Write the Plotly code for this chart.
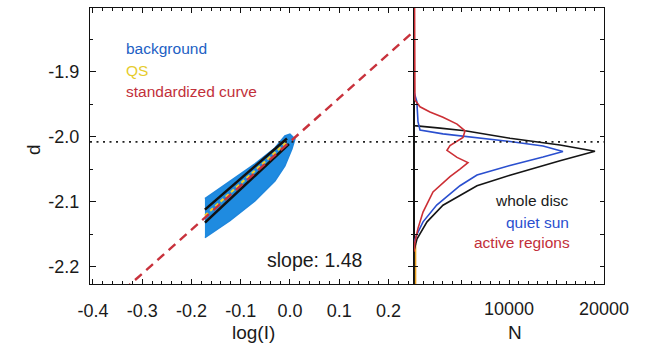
import plotly.graph_objects as go

W, H = 648, 356

# ---------------- data ----------------
# left panel: background band (upper / lower edges)
bg_x_upper = [-0.1726, -0.1218, -0.0711, -0.0305, -0.0102, 0.0, 0.0102]
bg_y_upper = [-2.0952, -2.0688, -2.0418, -2.0174, -1.9989, -1.9960, -2.0035]
bg_x_lower = [-0.1726, -0.1218, -0.0711, -0.0305, -0.0102, 0.004]
bg_y_lower = [-2.1552, -2.1292, -2.0988, -2.0681, -2.0451, -2.0190]

# whole-disc envelope lines (black) inside the band
wd_up_x = [-0.1726, -0.006]
wd_up_y = [-2.1122, -2.0028]
wd_lo_x = [-0.1726, -0.002]
wd_lo_y = [-2.1322, -2.0112]

# quiet sun (yellow dashed)
qs_x = [-0.1726, -0.004]
qs_y = [-2.1214, -2.0066]

# standardized curve (red dashed), slope 1.48 in log(I) vs d
std_x = [-0.36, 0.27]
std_y = [-2.2512, -1.8255]
slope_text = "slope: 1.48"

dotted_level = -2.008

# right panel: histograms N(d)
wd_N = [0, 0, 2740, 5370, 10100, 15370, 19050, 15370, 10100, 6630, 3050, 1370, 320, 0, 0]
wd_d = [-1.80, -1.983, -1.9868, -1.9909, -2.0023, -2.0128, -2.0225, -2.0369,
        -2.0592, -2.0754, -2.1054, -2.131, -2.157, -2.175, -2.2266]

qs_N = [0, 300, 420, 630, 3050, 6630, 10100, 13580, 15680, 13580, 10100, 6630,
        4840, 2390, 950, 280, 0]
qs_d = [-1.931, -1.946, -1.977, -1.9897, -1.9957, -2.0015, -2.0074, -2.0143,
        -2.0226, -2.0312, -2.0442, -2.0589, -2.0754, -2.1052, -2.131, -2.151, -2.162]

ar_N = [60, 100, 100, 630, 1680, 3050, 4530, 5370, 5160, 3790, 3470, 4530, 5680,
        4840, 3790, 2000, 950, 420, 100, 0]
ar_d = [-1.802, -1.923, -1.9435, -1.954, -1.962, -1.970, -1.9806, -1.9909, -2.0012,
        -2.0137, -2.021, -2.0318, -2.0398, -2.0497, -2.0615, -2.085, -2.116,
        -2.141, -2.162, -2.177]

orange_N = [150, 150]
orange_d = [-2.2266, -2.165]

left_xticks = [-0.4, -0.3, -0.2, -0.1, 0.0, 0.1, 0.2]
left_xtext = ["-0.4", "-0.3", "-0.2", "-0.1", "0.0", "0.1", "0.2"]
left_yticks = [-2.2, -2.1, -2.0, -1.9]
left_ytext = ["-2.2", "-2.1", "-2.0", "-1.9"]
right_xticks = [0, 5000, 10000, 15000, 20000]
right_xtext = ["", "", "10000", "", "20000"]

# ---------------- layout helpers ----------------
def px(x):
    return x / W

def py(y):
    return 1 - y / H

FONT = "Liberation Sans, Arial, Helvetica, sans-serif"
TXT = "#1a1a1a"

fig = go.Figure()

# background band
fig.add_trace(go.Scatter(
    x=bg_x_upper + bg_x_lower[::-1], y=bg_y_upper + bg_y_lower[::-1],
    fill="toself", fillcolor="#1f8be0", line=dict(color="#1f86dc", width=1.5),
    mode="lines", xaxis="x", yaxis="y", hoverinfo="skip"))
fig.add_trace(go.Scatter(x=wd_up_x, y=wd_up_y, mode="lines",
                         line=dict(color="#111111", width=2.6), xaxis="x", yaxis="y"))
fig.add_trace(go.Scatter(x=wd_lo_x, y=wd_lo_y, mode="lines",
                         line=dict(color="#111111", width=2.6), xaxis="x", yaxis="y"))
fig.add_trace(go.Scatter(x=qs_x, y=qs_y, mode="lines",
                         line=dict(color="#f2d02a", width=2.2, dash="4px,3px"),
                         xaxis="x", yaxis="y"))
fig.add_trace(go.Scatter(x=std_x, y=std_y, mode="lines",
                         line=dict(color="#c8323c", width=2.4, dash="9px,6px"),
                         xaxis="x", yaxis="y"))

# right panel
fig.add_trace(go.Scatter(x=orange_N, y=orange_d, mode="lines",
                         line=dict(color="#e8a020", width=1.8), xaxis="x2", yaxis="y2"))
fig.add_trace(go.Scatter(x=wd_N, y=wd_d, mode="lines",
                         line=dict(color="#151515", width=1.6), xaxis="x2", yaxis="y2"))
fig.add_trace(go.Scatter(x=qs_N, y=qs_d, mode="lines",
                         line=dict(color="#2a4fcf", width=1.6), xaxis="x2", yaxis="y2"))
fig.add_trace(go.Scatter(x=ar_N, y=ar_d, mode="lines",
                         line=dict(color="#cc2f35", width=1.6), xaxis="x2", yaxis="y2"))

# dotted reference line across both panels
fig.add_shape(type="line", xref="paper", yref="y", x0=px(90), x1=px(604),
              y0=dotted_level, y1=dotted_level,
              line=dict(color="#222222", width=1.6, dash="2px,4.5px"))

xl = [px(90), px(414)]
xr = [px(414), px(604)]
ydom = [py(284), py(8)]
yrange = [-2.2266, -1.802]

axis_common = dict(showline=True, linecolor="#111111", linewidth=1.3, mirror="allticks",
                   ticks="inside", tickcolor="#111111", showgrid=False, zeroline=False,
                   automargin=False,
                   tickfont=dict(family=FONT, size=18, color=TXT))

fig.update_layout(
    width=W, height=H, margin=dict(l=0, r=0, t=0, b=0, autoexpand=False),
    paper_bgcolor="white", plot_bgcolor="white", showlegend=False,
    xaxis=dict(domain=xl, range=[-0.406, 0.252], anchor="y",
               tickvals=left_xticks, ticktext=left_xtext, ticklen=5, tickwidth=1.2,
               ticklabelstandoff=10,
               minor=dict(ticks="inside", dtick=0.02, ticklen=2.5, tickcolor="#111111",
                          tickwidth=1),
               **axis_common),
    yaxis=dict(domain=ydom, range=yrange, anchor="x",
               tickvals=left_yticks, ticktext=left_ytext, ticklen=6, tickwidth=1.2,
               ticklabelstandoff=6,
               minor=dict(ticks="inside", dtick=0.05, tick0=-2.0, ticklen=3,
                          tickcolor="#111111", tickwidth=1),
               **axis_common),
    xaxis2=dict(domain=xr, range=[0, 20000], anchor="y2",
                tickvals=right_xticks, ticktext=right_xtext, ticklen=4, tickwidth=1.2,
                ticklabelstandoff=8,
                minor=dict(ticks="inside", dtick=1000, ticklen=2.5, tickcolor="#111111",
                           tickwidth=1),
                **axis_common),
    yaxis2=dict(domain=ydom, range=yrange, anchor="x2", showticklabels=False,
                dtick=0.05, tick0=-2.0, ticklen=4, tickwidth=1.2, **axis_common),
)

ann = []
def add_text(x, y, text, size, color, xanchor="center", angle=0):
    ann.append(dict(x=px(x), y=py(y), xref="paper", yref="paper", text=text,
                    showarrow=False, xanchor=xanchor, yanchor="middle", textangle=angle,
                    font=dict(family=FONT, size=size, color=color)))

add_text(33, 150, "d", 19, TXT, angle=-90)
add_text(253, 332, "log(I)", 19, TXT)
add_text(515, 332, "N", 19, TXT)
add_text(124, 48, "background", 15.5, "#2160c4", xanchor="left")
add_text(124, 70, "QS", 15.5, "#e6cc2e", xanchor="left")
add_text(124, 91, "standardized curve", 15.5, "#c2303a", xanchor="left")
add_text(314, 260, slope_text, 19.5, TXT)
add_text(571, 200, "whole disc", 15.5, TXT, xanchor="right")
add_text(571, 222, "quiet sun", 15.5, "#2a4fcf", xanchor="right")
add_text(572, 243, "active regions", 15.5, "#c2303a", xanchor="right")
fig.update_layout(annotations=ann)

fig.write_html("out.html")
